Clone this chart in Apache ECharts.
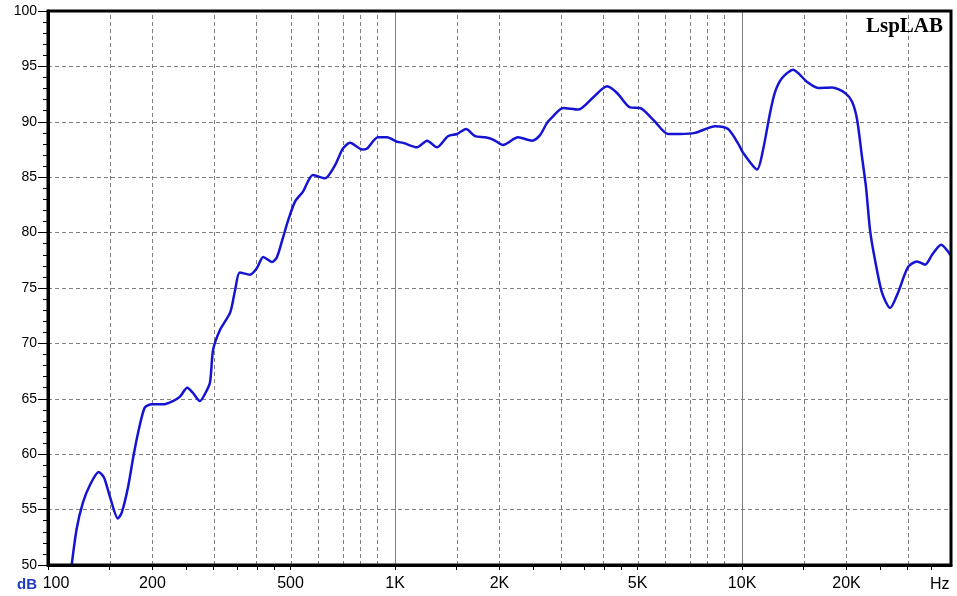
<!DOCTYPE html>
<html>
<head>
<meta charset="utf-8">
<script src="https://cdn.jsdelivr.net/npm/echarts@6/dist/echarts.min.js"></script>
<style>
html,body{margin:0;padding:0;background:#fff;}
#chart{width:957px;height:596px;}
</style>
</head>
<body>
<div id="chart"></div>
<script>
// ---- data ----
const freqHz = [117,121,126,132,140,145,151,159,163,170,176,182,190,199,215,229,240,252,262,274,284,293,299,313,335,346,357,382,400,417,442,457,476,492,515,543,580,628,672,708,742,804,831,893,948,1013,1055,1157,1237,1321,1421,1509,1602,1701,1817,1916,2047,2262,2483,2617,2742,2835,3049,3369,3721,4083,4363,4756,5082,5541,6119,6627,7320,8361,9114,9802,10070,11050,11490,12040,12450,13040,14030,15390,16560,18170,19810,20750,21450,22170,22760,23380,24170,25320,26700,28160,30090,31940,33690,35290,37460,40000];
const levelDb = [50.0,53.3,55.6,57.2,58.4,57.9,56.1,54.2,54.7,57.0,59.7,62.0,64.2,64.5,64.5,64.8,65.2,66.0,65.5,64.8,65.5,66.5,69.4,71.2,72.8,74.8,76.4,76.2,76.8,77.8,77.35,77.8,79.6,81.1,82.8,83.7,85.2,84.9,86.1,87.6,88.1,87.5,87.6,88.6,88.6,88.2,88.1,87.7,88.3,87.7,88.7,88.9,89.35,88.7,88.6,88.4,87.9,88.6,88.3,88.8,89.9,90.4,91.25,91.1,92.2,93.2,92.6,91.3,91.25,90.2,88.9,88.9,89.0,89.6,89.35,87.9,87.2,85.7,87.45,90.8,92.7,93.95,94.7,93.6,93.05,93.1,92.6,91.8,90.2,86.8,84.1,80.2,77.5,74.55,73.2,74.6,76.9,77.4,77.1,78.0,78.9,77.9];

const xMinHz = 100, xMaxHz = 40000;
const yTicks = [50,55,60,65,70,75,80,85,90,95,100];
const xTickHz = [100,150,200,250,300,350,400,450,500,1000,1500,2000,2500,3000,3500,4000,4500,5000,10000,15000,20000,25000,30000,35000];
const xLabelHz = [100,200,500,1000,2000,5000,10000,20000];
const xLabelText = ['100','200','500','1K','2K','5K','10K','20K'];
const gridDashHz = [150,200,300,400,500,600,700,800,900,1500,2000,3000,4000,5000,6000,7000,8000,9000,15000,20000,30000];
const gridSolidHz = [1000,10000];

// ---- build options ----
const lg = Math.log10;
const curve = freqHz.map((f, i) => [lg(f), levelDb[i]]);

function labelFor(v) {
  let best = 0, bd = 1e9;
  xLabelHz.forEach((f, i) => { const d = Math.abs(lg(f) - v); if (d < bd) { bd = d; best = i; } });
  const t = xLabelText[best];
  return best === 0 ? '{first|' + t + '}' : t;
}

const chart = echarts.init(document.getElementById('chart'), null, {renderer: 'canvas'});
chart.setOption({
  animation: false,
  backgroundColor: '#ffffff',
  grid: {left: 48, right: 6, top: 11, bottom: 31, show: true, borderColor: '#000', borderWidth: 3, backgroundColor: 'transparent', z: 10},
  xAxis: {
    type: 'value', min: lg(xMinHz), max: lg(xMaxHz),
    axisLine: {show: true, onZero: false, lineStyle: {color: '#000', width: 3}},
    axisTick: {show: true, inside: false, length: 5, customValues: xTickHz.map(lg), lineStyle: {color: '#000', width: 1}},
    axisLabel: {
      show: true, customValues: xLabelHz.map(lg), margin: 11, color: '#000', fontSize: 16,
      fontFamily: 'Liberation Sans, Arial, sans-serif', hideOverlap: false, showMinLabel: true, showMaxLabel: true,
      formatter: labelFor,
      rich: {first: {fontSize: 16, color: '#000', fontFamily: 'Liberation Sans, Arial, sans-serif', padding: [0, 0, 0, 16]}}
    },
    splitLine: {show: false}
  },
  yAxis: {
    type: 'value', min: yTicks[0], max: yTicks[yTicks.length - 1], interval: 5,
    axisLine: {show: true, lineStyle: {color: '#000', width: 3}},
    axisTick: {show: true, inside: false, length: 10, lineStyle: {color: '#000', width: 1}},
    minorTick: {show: true, splitNumber: 5, length: 5, lineStyle: {color: '#000', width: 1}},
    axisLabel: {color: '#000', fontSize: 14, margin: 11, fontFamily: 'Liberation Sans, Arial, sans-serif'},
    splitLine: {show: true, lineStyle: {color: '#808080', width: 1, type: [4, 3]}}
  },
  graphic: [
    {type: 'text', left: 866, top: 16, z: 100, style: {text: 'LspLAB', font: 'bold 21px "Liberation Serif", "Times New Roman", serif', fill: '#000', shadowColor: 'rgba(0,0,0,0.45)', shadowBlur: 3, shadowOffsetX: 2, shadowOffsetY: 2}},
    {type: 'text', left: 17, top: 577, z: 100, style: {text: 'dB', font: 'bold 15px "Liberation Sans", Arial, sans-serif', fill: '#1f3bc4'}},
    {type: 'text', left: 930, top: 577, z: 100, style: {text: 'Hz', font: '16px "Liberation Sans", Arial, sans-serif', fill: '#000'}}
  ],
  series: [
    {
      type: 'line', data: [], z: 1, silent: true,
      markLine: {
        silent: true, symbol: 'none', label: {show: false}, animation: false,
        data: gridDashHz.map(f => ({xAxis: lg(f), lineStyle: {color: '#808080', width: 1, type: [4, 3]}}))
          .concat(gridSolidHz.map(f => ({xAxis: lg(f), lineStyle: {color: '#808080', width: 1, type: 'solid'}})))
      }
    },
    {
      type: 'line', data: curve, z: 5, showSymbol: false, smooth: 0.25, clip: true,
      lineStyle: {color: '#1414d2', width: 2.5}
    }
  ]
});
</script>
</body>
</html>
